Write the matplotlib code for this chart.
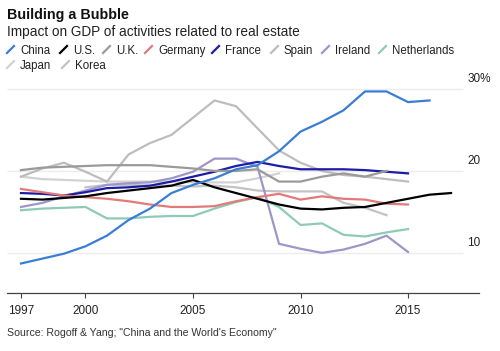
import numpy as np
import matplotlib.pyplot as plt
from matplotlib.lines import Line2D

plt.rcParams['font.family'] = ['Liberation Sans', 'DejaVu Sans']

# values (share of GDP, %)
china_years = list(range(1997, 2017))
china = [8.7, 9.3, 9.9, 10.8, 12.1, 14.0, 15.4, 17.3, 18.3, 19.1, 20.2, 20.7,
         22.4, 24.8, 26.0, 27.4, 29.7, 29.7, 28.4, 28.6]
us_years = list(range(1997, 2018))
us = [16.6, 16.5, 16.7, 16.9, 17.3, 17.6, 17.9, 18.2, 18.9, 18.0, 17.3, 16.6,
      15.9, 15.4, 15.3, 15.5, 15.6, 16.1, 16.6, 17.1, 17.3]
uk_years = list(range(1997, 2015))
uk = [20.1, 20.4, 20.5, 20.6, 20.7, 20.7, 20.7, 20.5, 20.3, 20.0, 20.0, 20.2,
      18.7, 18.7, 19.3, 19.7, 19.3, 20.0]
germany_years = list(range(1997, 2016))
germany = [17.8, 17.4, 17.0, 16.8, 16.6, 16.3, 15.9, 15.6, 15.6, 15.7, 16.3,
           16.8, 17.2, 16.5, 16.9, 16.6, 16.5, 16.0, 15.9]
france_years = list(range(1997, 2016))
france = [17.3, 17.2, 17.0, 17.4, 17.9, 18.0, 18.2, 18.7, 19.3, 19.9, 20.6,
          21.1, 20.6, 20.2, 20.2, 20.2, 20.1, 19.9, 19.7]
spain_years = list(range(1997, 2016))
spain = [19.3, 20.3, 21.0, 19.9, 18.7, 22.0, 23.4, 24.4, 26.5, 28.6, 27.9,
         25.2, 22.5, 21.0, 20.0, 19.5, 19.3, 19.0, 18.7]
ireland_years = list(range(1997, 2016))
ireland = [15.6, 16.1, 16.9, 17.6, 18.3, 18.5, 18.6, 19.1, 19.9, 21.5, 21.5,
           20.5, 11.1, 10.5, 10.0, 10.4, 11.1, 12.1, 10.1]
netherlands_years = list(range(1997, 2016))
netherlands = [15.2, 15.4, 15.5, 15.6, 14.2, 14.2, 14.4, 14.5, 14.5, 15.4,
               16.2, 16.8, 15.6, 13.4, 13.6, 12.2, 12.0, 12.5, 12.9]
japan_years = list(range(1997, 2010))
japan = [19.3, 19.0, 18.9, 18.8, 18.7, 18.7, 18.7, 18.7, 18.6, 18.6, 18.6,
         19.1, 19.7]
korea_years = list(range(2000, 2015))
korea = [18.0, 18.3, 18.3, 18.2, 18.2, 18.1, 18.2, 18.0, 17.6, 17.5, 17.5,
         17.5, 16.1, 15.5, 14.6]

names = ["China", "U.S.", "U.K.", "Germany", "France", "Spain", "Ireland",
         "Netherlands", "Japan", "Korea"]
colors = ["#3a7dd6", "#000000", "#9a9a9a", "#e27a7a", "#1c1ca6", "#bdbdbd",
          "#9d96ca", "#8fcab6", "#d2d2d2", "#c2c2c8"]
series = [(china_years, china), (us_years, us), (uk_years, uk),
          (germany_years, germany), (france_years, france),
          (spain_years, spain), (ireland_years, ireland),
          (netherlands_years, netherlands), (japan_years, japan),
          (korea_years, korea)]

xticks = [1997, 2000, 2005, 2010, 2015]
yticks = [10, 20, 30]
ytick_labels = ["10", "20", "30%"]

W, H = 500, 351
fig = plt.figure(figsize=(5.0, 3.51), dpi=100)
ax = fig.add_axes([7 / W, 1 - 293 / H, 472 / W, (293 - 72.6) / H])
ax.set_xlim(1996.35, 2018.3)
ax.set_ylim(5.1, 32)

for y in yticks:
    ax.hlines(y, 1996.35, 2017.55, color="#ececec", lw=1.0, zorder=0)
for y, lab in zip(yticks, ytick_labels):
    ax.text(2017.75, y + 0.45, lab, fontsize=8.5, color="#222222",
            ha="left", va="bottom")

for (xs, ys), c in zip(series[::-1], colors[::-1]):
    ax.plot(xs, ys, color=c, lw=1.6, solid_joinstyle="round")

for s in ["top", "right", "left"]:
    ax.spines[s].set_visible(False)
ax.spines["bottom"].set_color("#444444")
ax.spines["bottom"].set_linewidth(0.9)
ax.set_yticks([])
ax.set_xticks(xticks)
ax.set_xticklabels([str(t) for t in xticks])
ax.tick_params(axis="x", length=3.5, width=0.8, color="#444444",
               labelsize=8.5, labelcolor="#222222", pad=5)

# titles
fig.text(7 / W, 1 - 19 / H, "Building a Bubble", fontsize=10.3,
         fontweight="bold", color="#111111", ha="left", va="baseline")
fig.text(7 / W, 1 - 36 / H, "Impact on GDP of activities related to real estate",
         fontsize=9.8, color="#222222", ha="left", va="baseline")

# legend with slanted swatches
legend_rows = [
    [(7, 0), (60, 1), (103, 2), (145, 3), (212, 4), (271, 5), (322, 6), (379, 7)],
    [(7, 8), (62, 9)],
]
for row, ybase in zip(legend_rows, [54, 69]):
    for xpx, i in row:
        fig.add_artist(Line2D([xpx / W, (xpx + 7) / W],
                              [1 - (ybase - 1) / H, 1 - (ybase - 8) / H],
                              color=colors[i], lw=1.6,
                              transform=fig.transFigure))
        fig.text((xpx + 13) / W, 1 - ybase / H, names[i], fontsize=8.3,
                 color="#222222", ha="left", va="baseline")

fig.text(7 / W, 1 - 336 / H, "Source: Rogoff & Yang; \"China and the World's Economy\"",
         fontsize=7.6, color="#333333", ha="left", va="baseline")

fig.savefig("out.png", dpi=100)
